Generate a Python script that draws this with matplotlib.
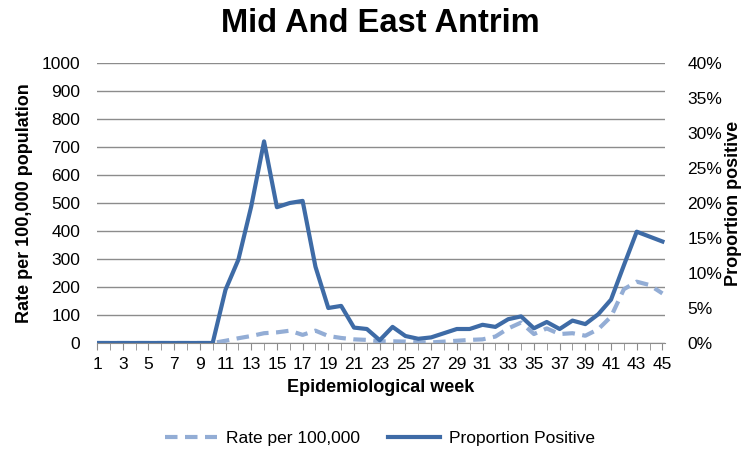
import matplotlib
matplotlib.use("Agg")
import matplotlib.pyplot as plt
from matplotlib.ticker import FuncFormatter, MultipleLocator
from matplotlib.lines import Line2D

plt.rcParams['font.family'] = ['Liberation Sans', 'DejaVu Sans']

weeks = list(range(1, 46))
rate_per_100k = [0, 0, 0, 0, 0, 0, 0, 0, 0, 0,
                 8, 17, 25, 35, 38, 44, 29, 44, 25, 18,
                 13, 11, 6, 6, 5, 2, 2, 5, 8, 11,
                 13, 23, 52, 73, 32, 52, 32, 35, 26, 49,
                 94, 192, 219, 207, 177]
proportion_positive = [0, 0, 0, 0, 0, 0, 0, 0, 0, 0,
                       7.6, 11.9, 19.5, 28.8, 19.4, 20.0, 20.3, 10.9, 5.0, 5.3,
                       2.2, 2.0, 0.4, 2.3, 1.0, 0.6, 0.8, 1.4, 2.0, 2.0,
                       2.6, 2.3, 3.4, 3.8, 2.1, 3.0, 2.0, 3.2, 2.7, 4.1,
                       6.2, 11.1, 15.9, 15.2, 14.5]
x_tick_labels = [str(w) for w in range(1, 46, 2)]

solid_col = '#3E6BA6'
dash_col = '#93ADD5'
grid_col = '#8C8C8C'

fig = plt.figure(figsize=(7.42, 4.51), dpi=100)
ax = fig.add_axes([97/742, 1-343/451, (665-97)/742, (343-63)/451])
ax2 = ax.twinx()

ax.plot(weeks, rate_per_100k, color=dash_col, lw=3, dashes=(3, 1.8), zorder=3)
ax2.plot(weeks, proportion_positive, color=solid_col, lw=3, zorder=4)

ax.set_xlim(1, 45.2)
ax.set_ylim(0, 1000)
ax2.set_ylim(0, 40)
ax.yaxis.set_major_locator(MultipleLocator(100))
ax2.yaxis.set_major_locator(MultipleLocator(5))
ax2.yaxis.set_major_formatter(FuncFormatter(lambda v, p: f"{int(round(v))}%"))
ax.set_xticks(range(1, 46, 2))
ax.set_xticklabels(x_tick_labels)
ax.set_xticks(range(1, 46), minor=True)

ax.grid(axis='y', color=grid_col, lw=1)
ax.set_axisbelow(True)
for a in (ax, ax2):
    for s in ('top', 'left', 'right'):
        a.spines[s].set_visible(False)
ax2.spines['bottom'].set_visible(False)
ax.spines['bottom'].set_color(grid_col)
ax.spines['bottom'].set_zorder(2)

ax.tick_params(axis='y', length=0, labelsize=12.5, pad=12)
ax2.tick_params(axis='y', length=0, labelsize=12.5, pad=16)
ax.tick_params(axis='x', which='both', length=5, color=grid_col, labelsize=12.5, pad=5)

ax.set_xlabel('Epidemiological week', fontsize=13, fontweight='bold', labelpad=5)
ax.set_ylabel('Rate per 100,000 population', fontsize=13, fontweight='bold', labelpad=6)
ax2.set_ylabel('Proportion positive', fontsize=13, fontweight='bold', labelpad=2)

fig.text(380/742, 1-24/451, 'Mid And East Antrim', ha='center', va='center',
         fontsize=23.5, fontweight='bold')

handles = [Line2D([0], [0], color=dash_col, lw=3, dashes=(3, 1.8)),
           Line2D([0], [0], color=solid_col, lw=3)]
fig.legend(handles, ['Rate per 100,000', 'Proportion Positive'],
           loc='center', bbox_to_anchor=(380/742, 1-438/451), ncol=2,
           frameon=False, fontsize=12.5, handlelength=3.0, columnspacing=1.6,
           handletextpad=0.5)

fig.savefig('out.png', dpi=100)
